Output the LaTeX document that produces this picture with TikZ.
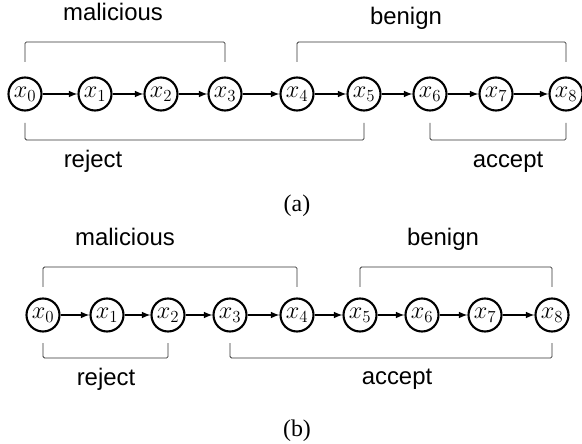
\documentclass[tikz,border=0pt]{standalone}
\usepackage{amsmath,amssymb}
\usepackage{fontspec}
\setsansfont{Liberation Sans}
\newfontfamily\capfont{Liberation Serif}
\usepackage{tikz}
\usetikzlibrary{shapes,arrows,positioning,calc}

\begin{document}
\begin{tikzpicture}[x=0.025cm, y=-0.025cm,
    st/.style={draw, circle, line width=1.5pt, minimum size=0.825cm, inner sep=0pt, font=\fontsize{17}{17}\selectfont},
    flow/.style={-latex, line width=1.1pt},
    brk/.style={draw=black!80, line width=0.6pt, rounded corners=1pt},
    lbl/.style={anchor=base, font=\fontsize{17}{17}\sffamily},
    captxt/.style={anchor=base, font=\fontsize{17}{17}\capfont}]
        % Cadenas de estados (a) y (b)
        \useasboundingbox (0,0) rectangle (582,444);

        % (a)
        \node[st] (a0) at (25,94) {$x_0$};
        \node[st] (a1) at (95,94) {$x_1$};
        \node[st] (a2) at (161,94) {$x_2$};
        \node[st] (a3) at (225,94) {$x_3$};
        \node[st] (a4) at (297,94) {$x_4$};
        \node[st] (a5) at (364,94) {$x_5$};
        \node[st] (a6) at (430,94) {$x_6$};
        \node[st] (a7) at (496,94) {$x_7$};
        \node[st] (a8) at (566,94) {$x_8$};

        \draw[flow] (a0) -- (a1);
        \draw[flow] (a1) -- (a2);
        \draw[flow] (a2) -- (a3);
        \draw[flow] (a3) -- (a4);
        \draw[flow] (a4) -- (a5);
        \draw[flow] (a5) -- (a6);
        \draw[flow] (a6) -- (a7);
        \draw[flow] (a7) -- (a8);

        \draw[brk] ($(a0.center)+(0,-32)$) -- ++(0,-20) -| ($(a3.center)+(0,-32)$);
        \draw[brk] ($(a4.center)+(0,-32)$) -- ++(0,-20) -| ($(a8.center)+(0,-32)$);
        \draw[brk] ($(a0.center)+(0,29)$) -- ++(0,17) -| ($(a5.center)+(0,29)$);
        \draw[brk] ($(a6.center)+(0,29)$) -- ++(0,17) -| ($(a8.center)+(0,29)$);

        \node[lbl] (mala) at (113,21) {malicious};
        \node[lbl] (bena) at (406,25) {benign};
        \node[lbl] (reja) at (93,168) {reject};
        \node[lbl] (acca) at (508,168) {accept};
        \node[captxt] (capa) at (297,212) {(a)};

        % (b)
        \node[st] (b0) at (43,315) {$x_0$};
        \node[st] (b1) at (107,315) {$x_1$};
        \node[st] (b2) at (168,315) {$x_2$};
        \node[st] (b3) at (230,315) {$x_3$};
        \node[st] (b4) at (297,315) {$x_4$};
        \node[st] (b5) at (360,315) {$x_5$};
        \node[st] (b6) at (422,315) {$x_6$};
        \node[st] (b7) at (485,315) {$x_7$};
        \node[st] (b8) at (552,315) {$x_8$};

        \draw[flow] (b0) -- (b1);
        \draw[flow] (b1) -- (b2);
        \draw[flow] (b2) -- (b3);
        \draw[flow] (b3) -- (b4);
        \draw[flow] (b4) -- (b5);
        \draw[flow] (b5) -- (b6);
        \draw[flow] (b6) -- (b7);
        \draw[flow] (b7) -- (b8);

        \draw[brk] ($(b0.center)+(0,-28)$) -- ++(0,-20) -| ($(b4.center)+(0,-28)$);
        \draw[brk] ($(b5.center)+(0,-28)$) -- ++(0,-20) -| ($(b8.center)+(0,-28)$);
        \draw[brk] ($(b0.center)+(0,28)$) -- ++(0,15) -| ($(b2.center)+(0,28)$);
        \draw[brk] ($(b3.center)+(0,28)$) -- ++(0,15) -| ($(b8.center)+(0,28)$);

        \node[lbl] (malb) at (125,246) {malicious};
        \node[lbl] (benb) at (443,246) {benign};
        \node[lbl] (rejb) at (106,385) {reject};
        \node[lbl] (accb) at (397,384) {accept};
        \node[captxt] (capb) at (297,436) {(b)};
    \end{tikzpicture}
\end{document}
